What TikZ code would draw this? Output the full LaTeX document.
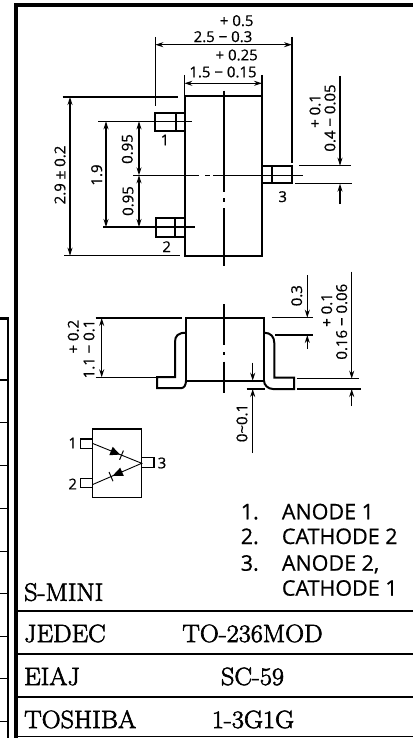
\documentclass[tikz,border=0pt]{standalone}
\usepackage{fontspec}
\usetikzlibrary{arrows.meta}
\newfontfamily\dimfont[FakeBold=0.6]{Open Sans}
\newfontfamily\tablefont[FakeBold=2.5,FakeStretch=1.05]{Latin Modern Roman}
\tikzset{
  outl/.style={line width=2pt},
  dimln/.style={line width=1.1pt},
  centl/.style={line width=1.1pt},
  dimtxt/.style={font=\dimfont\fontsize{15}{15}\selectfont,inner sep=0pt},
  dimrot/.style={dimtxt,rotate=90},
  pintxt/.style={font=\dimfont\fontsize{15}{15}\selectfont,inner sep=0pt},
  notetxt/.style={font=\dimfont\fontsize{21.5}{21.5}\selectfont,inner sep=0pt,anchor=base west},
  notenum/.style={font=\dimfont\fontsize{21.5}{21.5}\selectfont,inner sep=0pt,anchor=base east},
  serif/.style={font=\tablefont\fontsize{25}{25}\selectfont,inner sep=0pt,anchor=base west},
  serifmid/.style={font=\tablefont\fontsize{25}{25}\selectfont,inner sep=0pt,anchor=base},
}
\begin{document}
\begin{tikzpicture}[>={Stealth[length=8pt,width=5pt]},x=1pt,y=-1pt,line join=miter]
            \useasboundingbox (0,0) rectangle (413,738);
            % frame and table on the right
            \draw[line width=4pt] (16,738)--(16,5.3)--(413,5.3);
            \draw[line width=1.8pt] (18,611.3)--(413,611.3);
            \draw[line width=1.8pt] (18,653.7)--(413,653.7);
            \draw[line width=1.8pt] (18,696.7)--(413,696.7);
            \draw[line width=1.4pt] (18,736.7)--(413,736.7);
            % cut off table on the left
            \draw[line width=2.2pt] (0,318.5)--(8.2,318.5)--(8.2,738);
            \draw[line width=1.6pt] (0,380)--(7,380);
            \foreach \y in {422,465,508,551,593,636,678,721}
                \draw[line width=1pt] (0,\y)--(7,\y);
            % top view
            \draw[outl] (184.5,96) rectangle (262,255.7);
            \draw[outl] (184.5,112.7)--(155,112.7)--(155,130.7)--(184.5,130.7);
            \draw[outl] (175.7,112.7)--(175.7,130.7);
            \draw[outl] (184.5,218)--(156,218)--(156,236.7)--(184.5,236.7);
            \draw[outl] (175,218)--(175,236.7);
            \draw[outl] (262,165.7)--(292,165.7)--(292,183.3)--(262,183.3);
            \draw[outl] (272.3,165.7)--(272.3,183.3);
            \draw[centl] (98,121.3)--(192,121.3);
            \draw[centl] (103,227)--(195,227);
            \draw[centl] (133,175.3)--(199,175.3) (205,175.3)--(210,175.3) (213,175.3)--(303,175.3);
            \draw[centl] (224,90.7)--(224,191.7) (224,198)--(224,202) (224,208)--(224,265.7);
            % dimensions of the top view
            \draw[dimln] (155.3,37)--(155.3,106);
            \draw[dimln] (292,37)--(292,163);
            \draw[dimln,<->] (155.3,44.7)--(292,44.7);
            \draw[dimln] (184.3,75)--(184.3,96);
            \draw[dimln] (262,75)--(262,96);
            \draw[dimln,<->] (184.3,83.3)--(262,83.3);
            \draw[dimln] (62.7,97)--(177.7,97);
            \draw[dimln] (64,255.7)--(180,255.7);
            \draw[dimln,<->] (70,97)--(70,255.7);
            \draw[dimln,<->] (106,121.3)--(106,227);
            \draw[dimln,<->] (139,121.3)--(139,175.3);
            \draw[dimln,<->] (139,175.3)--(139,227);
            \draw[dimln] (299,165.7)--(350.7,165.7);
            \draw[dimln] (295,183.7)--(352,183.7);
            \draw[dimln,->] (340,76)--(340,165.7);
            \draw[dimln,->] (340,204)--(340,183.7);
            \node[dimtxt] (plusa) at (236.7,20.7) {+ 0.5};
            \node[dimtxt] (widtha) at (223,36.7) {2.5 − 0.3};
            \node[dimtxt] (plusb) at (236.7,55) {+ 0.25};
            \node[dimtxt] (widthb) at (223,72) {1.5 − 0.15};
            \node[dimrot] (heighta) at (60,175) {2.9 ± 0.2};
            \node[dimrot] (pitcha) at (96.7,175) {1.9};
            \node[dimrot] (pitchb) at (127.3,149) {0.95};
            \node[dimrot] (pitchc) at (128,201) {0.95};
            \node[dimrot] (plusc) at (315,111) {+ 0.1};
            \node[dimrot] (leada) at (330,118) {0.4 − 0.05};
            \node[pintxt] (pina) at (165,140) {1};
            \node[pintxt] (pinb) at (166.7,246.7) {2};
            \node[pintxt] (pinc) at (282.7,196.7) {3};
            % side view
            \draw[outl] (186,317.7) rectangle (264,380.7);
            \draw[outl] (186,332.7) .. controls (178,332.7) and (175,336) .. (175,342)
                --(175,377)--(157,377)--(157,388)--(181.7,388)
                .. controls (184,388) and (186,385) .. (186,380.7);
            \draw[outl] (264,332.7) .. controls (271,332.7) and (274.3,337) .. (274.3,343)
                --(274.3,377.7)--(294,377.7)--(294,389)--(273,389)
                .. controls (268,389) and (264,385) .. (264,380.7);
            \draw[centl] (224,304)--(224,345) (224,352)--(224,355) (224,361.7)--(224,393);
            % dimensions of the side view
            \draw[dimln] (95.7,318)--(181.7,318);
            \draw[dimln] (95.7,377.3)--(157,377.3);
            \draw[dimln,<->] (101.7,318)--(101.7,377.3);
            \draw[dimln] (271.7,317.7)--(313,317.7);
            \draw[dimln] (275,335)--(313,335);
            \draw[dimln,->] (307.3,275)--(307.3,317.7);
            \draw[dimln,->] (307.3,349)--(307.3,335);
            \draw[dimln] (296.7,378.7)--(359,378.7);
            \draw[dimln] (297,389)--(360.7,389);
            \draw[dimln,->] (351.7,271.7)--(351.7,378.7);
            \draw[dimln,->] (351.7,406)--(351.7,389);
            \draw[dimln] (246.7,389)--(265,389);
            \draw[dimln,->] (252.7,362.7)--(252.7,380.7);
            \draw[dimln,->] (252.7,453)--(252.7,389);
            \node[dimrot] (plusd) at (73.3,336.7) {+ 0.2};
            \node[dimrot] (heightb) at (89,349) {1.1 − 0.1};
            \node[dimrot] (stand) at (296.7,295.7) {0.3};
            \node[dimrot] (pluse) at (326.7,310) {+ 0.1};
            \node[dimrot] (leadb) at (341.7,321.7) {0.16 − 0.06};
            \node[dimrot] (gap) at (242,423) {0\char"7E 0.1};
            % circuit symbol
            \draw[line width=1.3pt] (92.3,429) rectangle (141.7,497.7);
            \draw[line width=1.3pt] (92.3,439) rectangle (80.7,448.3);
            \draw[line width=1.3pt] (92.3,478.3) rectangle (80.7,487.7);
            \draw[line width=1.3pt] (141.7,457.7) rectangle (154,467.3);
            \draw[line width=0.9pt] (92.3,443.3)--(141.7,463.3)--(92.3,484.7);
            \fill (109.3,455.2)--(112.7,446.8)--(120,454.6)--cycle;
            \draw[line width=1pt] (119.6,459.8)--(123.4,450.6);
            \fill (123.8,475.9)--(120.2,467.7)--(112.5,475.9)--cycle;
            \draw[line width=1pt] (113,481.2)--(109,472);
            \node[pintxt] (syma) at (72.7,443) {1};
            \node[pintxt] (symb) at (72.7,484) {2};
            \node[pintxt] (symc) at (162,463) {3};
            % pin list
            \node[notenum] (numa) at (259,519.3) {1.};
            \node[notenum] (numb) at (259,544) {2.};
            \node[notenum] (numc) at (259,570.7) {3.};
            \node[notetxt] (pinlista) at (281.7,519.3) {ANODE 1};
            \node[notetxt] (pinlistb) at (281.7,544) {CATHODE 2};
            \node[notetxt] (pinlistc) at (281.7,570.7) {ANODE 2,};
            \node[notetxt] (pinlistd) at (281.7,595.7) {CATHODE 1};
            % package names
            \node[serif] (smini) at (24,600.7) {S-MINI};
            \node[serif] (jedec) at (24,642) {JEDEC};
            \node[serif] (eiaj) at (24,685) {EIAJ};
            \node[serif] (toshiba) at (24,728) {TOSHIBA};
            \node[serifmid] (jedecval) at (252.5,642) {TO-236MOD};
            \node[serifmid] (eiajval) at (252.5,685) {SC-59};
            \node[serifmid] (toshibaval) at (253,728) {1-3G1G};
\end{tikzpicture}
\end{document}
